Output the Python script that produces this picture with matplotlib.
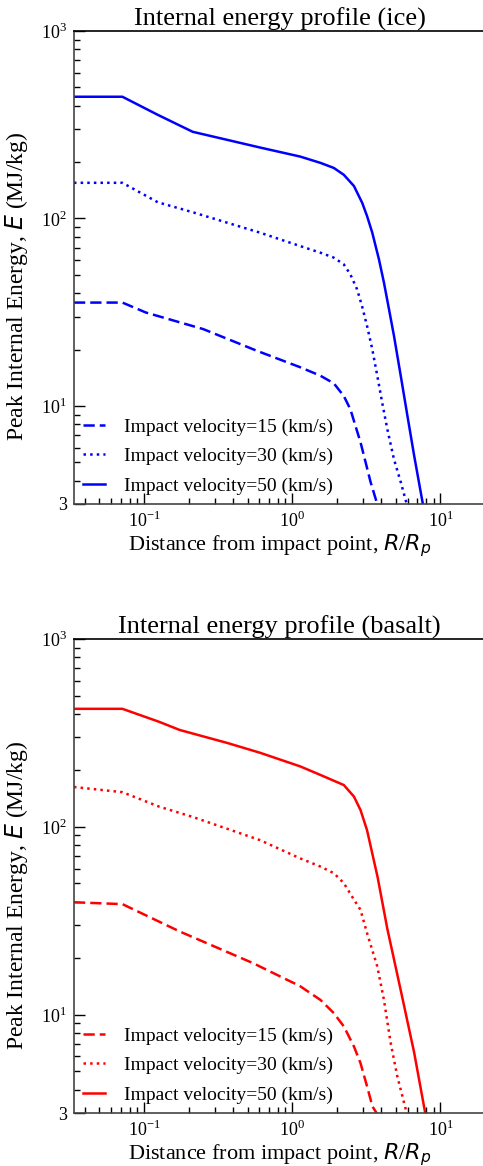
import matplotlib
matplotlib.use("Agg")
import matplotlib.pyplot as plt

plt.rcParams["font.family"] = ["Liberation Serif", "DejaVu Serif"]
plt.rcParams["mathtext.fontset"] = "custom"
plt.rcParams["mathtext.rm"] = "Liberation Serif"
plt.rcParams["mathtext.it"] = "DejaVu Sans:italic"

# ice (R/Rp, MJ/kg)
ice_x15 = [0.0337, 0.0715, 0.103, 0.251, 0.577, 1.13, 1.55, 1.91, 2.23, 2.47, 2.67, 2.89,
           3.13, 3.38, 3.71, 3.85]
ice_e15 = [35.6, 35.6, 31.5, 25.7, 19.7, 16.1, 14.5, 13.2, 11.3, 9.6, 7.85, 6.41,
           5.0, 3.93, 3.08, 2.75]
ice_x30 = [0.0337, 0.0715, 0.124, 0.213, 0.607, 1.13, 1.55, 1.91, 2.23, 2.47, 2.74, 2.96,
           3.20, 3.47, 3.75, 4.05, 4.38, 4.86, 5.40, 5.84, 6.1]
ice_e30 = [155, 155, 122, 108, 84, 71.3, 65.7, 61.8, 56.9, 50.3, 41.9, 34.1,
           26.7, 20.1, 14.5, 10.4, 7.55, 5.2, 3.93, 3.13, 2.75]
ice_x50 = [0.0337, 0.0715, 0.124, 0.213, 0.607, 1.13, 1.55, 1.91, 2.23, 2.61, 2.97, 3.20,
           3.47, 3.85, 4.16, 4.50, 4.86, 5.40, 5.99, 6.65, 7.57, 7.9]
ice_e50 = [446, 446, 357, 290, 239, 214, 198, 186, 171, 149, 121, 103,
           84, 60.5, 45.5, 32.8, 23.7, 14.5, 8.87, 5.44, 3.08, 2.6]

# basalt
bas_x15 = [0.0337, 0.0715, 0.175, 0.251, 0.546, 1.13, 1.55, 1.91, 2.23, 2.61, 2.89, 3.20,
           3.48, 3.71, 3.85]
bas_e15 = [39.7, 38.8, 27.7, 24.5, 18.8, 14.2, 12.0, 10.2, 8.67, 6.78, 5.53, 4.16,
           3.25, 3.0, 2.8]
bas_x30 = [0.0337, 0.0715, 0.127, 0.213, 0.607, 1.13, 1.55, 1.91, 2.23, 2.61, 2.89, 3.20,
           3.75, 4.16, 4.62, 5.12, 5.84, 6.1]
bas_e30 = [163, 153, 128, 113, 85, 68, 61.5, 56.7, 50.2, 41, 36.2, 27.2,
           18.1, 12.0, 7.07, 4.7, 3.13, 2.75]
bas_x50 = [0.0337, 0.0715, 0.127, 0.174, 0.363, 0.607, 1.13, 1.55, 2.23, 2.61, 2.89, 3.20,
           3.77, 4.38, 5.40, 6.65, 7.9, 8.2]
bas_e50 = [425, 425, 362, 328, 280, 248, 210, 189, 167, 145, 123, 96,
           54, 28.8, 13.5, 6.3, 3.0, 2.6]

labels = ["Impact velocity=15 (km/s)", "Impact velocity=30 (km/s)", "Impact velocity=50 (km/s)"]
styles = [(0, (4.5, 2.0)), ":", "-"]

panels = [
    ("Internal energy profile (ice)", "#0000ff",
     [(ice_x15, ice_e15), (ice_x30, ice_e30), (ice_x50, ice_e50)]),
    ("Internal energy profile (basalt)", "#ff0000",
     [(bas_x15, bas_e15), (bas_x30, bas_e30), (bas_x50, bas_e50)]),
]

W, H = 483, 1166
fig = plt.figure(figsize=(W / 100, H / 100), dpi=100)
boxes = [(74, 31, 504), (74, 639, 1113)]

for (title, color, series), (left, top, bottom) in zip(panels, boxes):
    ax = fig.add_axes([left / W, (H - bottom) / H, 411 / W, (bottom - top) / H])
    for (x, e), ls, lab in zip(series, styles, labels):
        ax.plot(x, e, color=color, lw=1.8, ls=ls, label=lab)
    ax.set_xscale("log")
    ax.set_yscale("log")
    ax.set_xlim(0.0337, 20)
    ax.set_ylim(3, 1000)
    ax.set_yticks([3, 10, 100, 1000])
    ax.set_yticklabels(["3", "$10^{1}$", "$10^{2}$", "$10^{3}$"])
    ax.set_xticks([0.1, 1, 10])
    ax.set_xticklabels(["$10^{-1}$", "$10^{0}$", "$10^{1}$"])
    ax.tick_params(which="both", direction="in", top=False, right=False, labelsize=13, width=1)
    ax.tick_params(which="major", length=8, pad=5)
    ax.tick_params(which="minor", length=4)
    ax.spines["right"].set_visible(False)
    for s in ("left", "bottom", "top"):
        ax.spines[s].set_linewidth(1.2)
    ax.spines["left"].set_color("#444444")
    ax.spines["bottom"].set_color("#444444")
    ax.set_title(title, fontsize=19, pad=2)
    ax.set_xlabel("Distance from impact point, $R/R_p$", fontsize=16)
    ax.xaxis.set_label_coords(0.501, -0.06)
    ax.set_ylabel("Peak Internal Energy, $E$ (MJ/kg)", fontsize=17)
    ax.yaxis.set_label_coords(-0.108, 0.46)
    ax.legend(loc="lower left", frameon=False, fontsize=14, handlelength=1.1,
              handletextpad=1.0, labelspacing=0.6, borderaxespad=0.08)

fig.savefig("out.png", dpi=100)
